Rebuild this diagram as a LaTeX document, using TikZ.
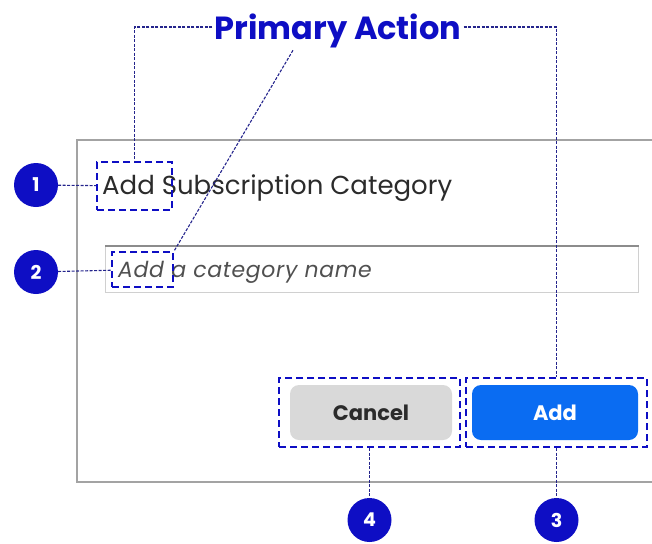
\documentclass[tikz,border=0pt]{standalone}
\usepackage{fontspec}
\setmainfont{Poppins}
\usetikzlibrary{calc}
\definecolor{Callout}{HTML}{0E0EC4}
\definecolor{CalloutLine}{HTML}{24248C}
\definecolor{Frame}{HTML}{A3A3A3}
\definecolor{FieldTop}{HTML}{8C8C8C}
\definecolor{FieldEdge}{HTML}{D0D0D0}
\definecolor{BtnBlue}{HTML}{0A6CF2}
\definecolor{BtnGray}{HTML}{D9D9D9}
\definecolor{InkDark}{HTML}{2B2B2B}
\definecolor{InkSoft}{HTML}{505050}

\begin{document}
\begin{tikzpicture}[x=1pt, y=-1pt,
  conn/.style={draw=CalloutLine, line width=1.1pt, dash pattern=on 3pt off 1.5pt},
  hbox/.style={draw=Callout, line width=2.4pt, dash pattern=on 7pt off 4pt, inner sep=0pt},
  num/.style={circle, fill=Callout, text=white, font=\fontsize{19}{19}\selectfont\bfseries, minimum size=44pt, inner sep=0pt},
  btn/.style={rounded corners=9pt, minimum height=55pt, inner sep=0pt, font=\fontsize{21}{21}\selectfont\bfseries},
]
\useasboundingbox (0,0) rectangle (652,543);
% ---------------- dialog frame
\draw[Frame, line width=1.5pt] (652,140) -- (77,140) -- (77,482) -- (652,482);
\node[anchor=base west, text=InkDark, inner sep=0pt, font=\fontsize{26}{30}\selectfont] (title) at (102,194) {Add Subscription Category};
% input field
\node[draw=FieldEdge, line width=1pt, minimum width=533pt, minimum height=46pt, anchor=north west] (field) at (105,246) {};
\draw[FieldTop, line width=2pt] (field.north west) -- (field.north east);
\node[anchor=base west, inner sep=0pt, text=InkSoft, font=\fontsize{22}{24}\selectfont\itshape\addfontfeature{LetterSpace=3}] (hint) at (118,277) {Add a category name};
% buttons
\node[btn, fill=BtnGray, text=InkDark, minimum width=162pt] (cancel) at (371,412.5) {Cancel};
\node[btn, fill=BtnBlue, text=white, minimum width=166pt] (add) at (555,412.5) {Add};
% ---------------- highlight boxes
\node[hbox, minimum width=75pt, minimum height=48pt] (b1) at (134.5,186) {};
\node[hbox, minimum width=61pt, minimum height=35pt] (b2) at (142.5,269.5) {};
\node[hbox, minimum width=181pt, minimum height=69pt] (b4) at (369.5,412.5) {};
\node[hbox, minimum width=181pt, minimum height=69pt] (b3) at (556.5,412.5) {};
% ---------------- numbered markers
\node[num] (n1) at (36,185) {1};
\node[num] (n2) at (36,272) {2};
\node[num] (n4) at (369.5,520) {4};
\node[num] (n3) at (556.5,520) {3};
% ---------------- callout
\node[text=Callout, inner sep=2pt, font=\fontsize{32}{32}\selectfont\bfseries] (pa) at (338,31) {Primary Action};
\draw[conn] (n1) -- (b1);
\draw[conn] (n2) -- (b2);
\draw[conn] ([yshift=4pt]pa.west) -| (b1.north);
\draw[conn] ([yshift=4pt]pa.east) -| (b3.north);
\draw[conn] ($(pa.south)+(-45,0)$) -- (b2.north east);
\draw[conn] (b4) -- (n4);
\draw[conn] (b3) -- (n3);
\end{tikzpicture}
\end{document}
